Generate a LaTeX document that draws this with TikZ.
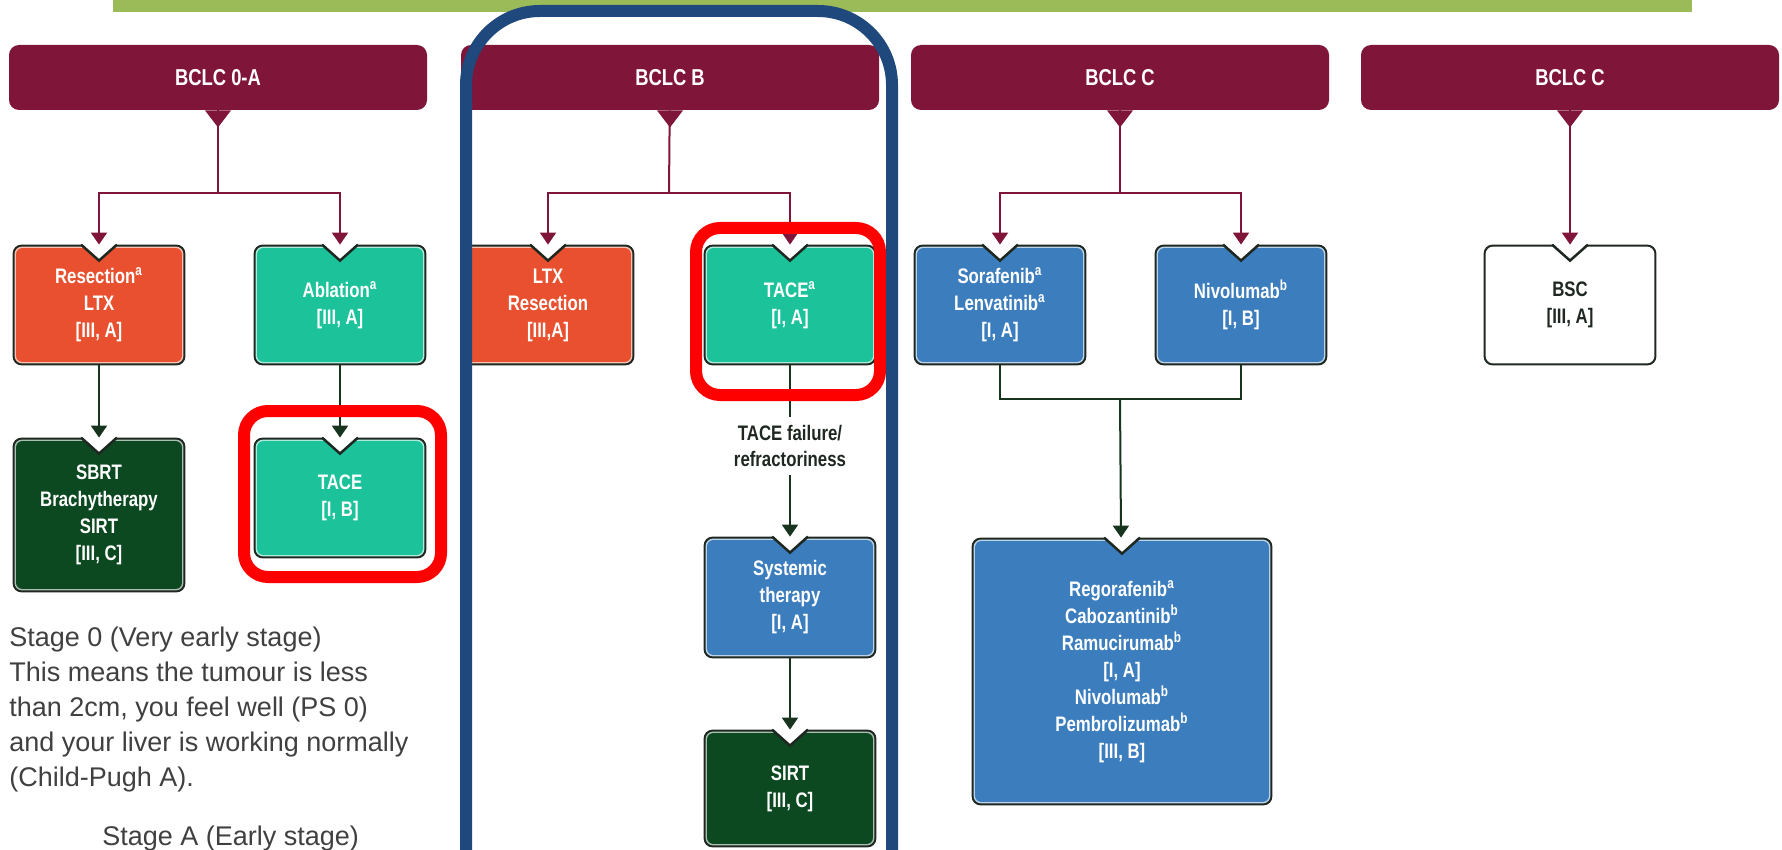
\documentclass[tikz,border=0pt]{standalone}
\usepackage{fontspec}
\setmainfont{Liberation Sans}
\newfontfamily\condfont[FakeStretch=0.8]{Liberation Sans}
\usetikzlibrary{arrows.meta}
\pgfdeclarelayer{background}
\pgfsetlayers{background,main}

\definecolor{maroon1}{RGB}{128,21,58}
\definecolor{orange1}{RGB}{232,80,47}
\definecolor{teal1}{RGB}{27,194,154}
\definecolor{green1}{RGB}{12,72,32}
\definecolor{blue1}{RGB}{60,125,190}
\definecolor{line1}{RGB}{22,52,30}
\definecolor{edge1}{RGB}{30,40,32}
\definecolor{frameblue}{RGB}{31,73,125}
\definecolor{banner1}{RGB}{155,187,89}
\definecolor{text1}{RGB}{64,64,64}

\tikzstyle{header} = [fill=maroon1, rounded corners=5pt, minimum width=209pt, minimum height=32.5pt, text=white, font=\condfont\bfseries\fontsize{11.5}{13}\selectfont]
\tikzstyle{block} = [minimum width=86pt, minimum height=60pt, inner sep=0pt, align=center, text=white, font=\condfont\bfseries\fontsize{10.5}{13.5}\selectfont]
\tikzstyle{arrowtext} = [align=center, inner sep=4pt, text=edge1, font=\condfont\bfseries\fontsize{10.5}{13}\selectfont]
\tikzstyle{arrow} = [draw, line width=1pt, -{Triangle[width=8pt,length=6pt]}]
\tikzstyle{mline} = [draw, line width=1pt, color=maroon1]
\tikzstyle{gline} = [draw, line width=1pt, color=line1]
\tikzstyle{frame} = [line width=6pt, rounded corners=12pt]

% notched box behind a block node
\newcommand{\boxshape}[2]{%
  \fill[edge1, rounded corners=4.5pt] (#1.north west) rectangle (#1.south east);
  \fill[#2!35!white, rounded corners=3.75pt] ([shift={(2,2)}]#1.north west) rectangle ([shift={(-2,-2)}]#1.south east);
  \fill[#2, rounded corners=3pt] ([shift={(3.5,3.5)}]#1.north west) rectangle ([shift={(-3.5,-3.5)}]#1.south east);
  \fill[white] ([shift={(-17,-1)}]#1.north) -- ([shift={(0,15)}]#1.north) -- ([shift={(17,-1)}]#1.north) -- cycle;
  \draw[edge1, line width=1.25pt] ([shift={(-18,0)}]#1.north) -- ([shift={(0,16)}]#1.north) -- ([shift={(18,0)}]#1.north);
}

\begin{document}
\begin{tikzpicture}[x=0.5pt, y=-0.5pt]
	\useasboundingbox (0,0) rectangle (1782,850);
	\fill[banner1] (113,0) rectangle (1692,12);

	\node [header] (hA) at (218,77.5) {BCLC 0-A};
	\node [header] (hB) at (670,77.5) {BCLC B};
	\node [header] (hC) at (1120,77.5) {BCLC C};
	\node [header] (hD) at (1570,77.5) {BCLC C};
	\foreach \h in {hA,hB,hC,hD}
		\fill[maroon1] ([xshift=-6.5pt]\h.south) -- ([yshift=-8.5pt]\h.south) -- ([xshift=6.5pt]\h.south) -- cycle;

	\node [block] (res) at (99,305) {Resection\textsuperscript{a}\\LTX\\{[III, A]}};
	\node [block] (abl) at (340,305) {Ablation\textsuperscript{a}\\{[III, A]}};
	\node [block] (ltx) at (548,305) {LTX\\Resection\\{[III,A]}};
	\node [block] (taceB) at (790,305) {TACE\textsuperscript{a}\\{[I, A]}};
	\node [block] (sor) at (1000,305) {Sorafenib\textsuperscript{a}\\Lenvatinib\textsuperscript{a}\\{[I, A]}};
	\node [block] (niv) at (1241,305) {Nivolumab\textsuperscript{b}\\{[I, B]}};
	\node [block, text=edge1] (bsc) at (1570,305) {BSC\\{[III, A]}};

	\node [block, minimum height=77pt] (sbrt) at (99,515) {SBRT\\Brachytherapy\\SIRT\\{[III, C]}};
	\node [block] (taceA) at (340,498) {TACE\\{[I, B]}};
	\node [arrowtext] (fail) at (790,446) {TACE failure/\\refractoriness};
	\node [block, minimum height=60.5pt] (sys) at (790,597.5) {Systemic\\therapy\\{[I, A]}};
	\node [block, minimum height=58.5pt] (sirt) at (790,788.5) {SIRT\\{[III, C]}};
	\node [block, minimum width=150pt, minimum height=133.5pt] (big) at (1122,671.5) {Regorafenib\textsuperscript{a}\\Cabozantinib\textsuperscript{b}\\Ramucirumab\textsuperscript{b}\\{[I, A]}\\Nivolumab\textsuperscript{b}\\Pembrolizumab\textsuperscript{b}\\{[III, B]}};

	\begin{pgfonlayer}{background}
		\foreach \n/\col in {res/orange1, abl/teal1, ltx/orange1, taceB/teal1, sor/blue1, niv/blue1, bsc/white, sbrt/green1, taceA/teal1, sys/blue1, sirt/green1, big/blue1}
			{\boxshape{\n}{\col}}
	\end{pgfonlayer}

	% BCLC 0-A
	\coordinate (jA) at (218,193);
	\draw [mline] (hA) -- (jA);
	\draw [arrow, mline] (jA) -| (res);
	\draw [arrow, mline] (jA) -| (abl);
	\draw [arrow, gline] (res) -- (sbrt);
	\draw [arrow, gline] (abl) -- (taceA);

	% BCLC B
	\coordinate (jB) at (669,193);
	\draw [mline] (hB) -- (jB);
	\draw [arrow, mline] (jB) -| (ltx);
	\draw [arrow, mline] (jB) -| (taceB);
	\draw [gline] (taceB) -- (fail);
	\draw [arrow, gline] (fail) -- (sys);
	\draw [arrow, gline] (sys) -- (sirt);

	% BCLC C
	\coordinate (jC) at (1120,193);
	\draw [mline] (hC) -- (jC);
	\draw [arrow, mline] (jC) -| (sor);
	\draw [arrow, mline] (jC) -| (niv);
	\coordinate (kC) at (1120,399);
	\draw [gline] (sor) |- (kC) -| (niv);
	\draw [arrow, gline] (kC) -- (big);
	\draw [arrow, mline] (hD) -- (bsc);

	% Stage text
	\node [anchor=north west, align=left, inner sep=0pt, text=text1, font=\fontsize{13.5}{17.5}\selectfont] (stage0) at (9,627) {Stage 0 (Very early stage)\\This means the tumour is less\\than 2cm, you feel well (PS 0)\\and your liver is working normally\\(Child-Pugh A).};
	\node [anchor=base west, inner sep=0pt, text=text1, font=\fontsize{13.5}{17.5}\selectfont] (stageA) at (102,845) {Stage A (Early stage)};

	% highlights
	\draw [frame, red] (244,411) rectangle (441,577);
	\draw [frame, red] (696,228) rectangle (880,395);
	\draw [line width=6pt, frameblue, rounded corners=37pt] (466,850) -- (466,11) -- (892,11) -- (892,850);
\end{tikzpicture}
\end{document}
